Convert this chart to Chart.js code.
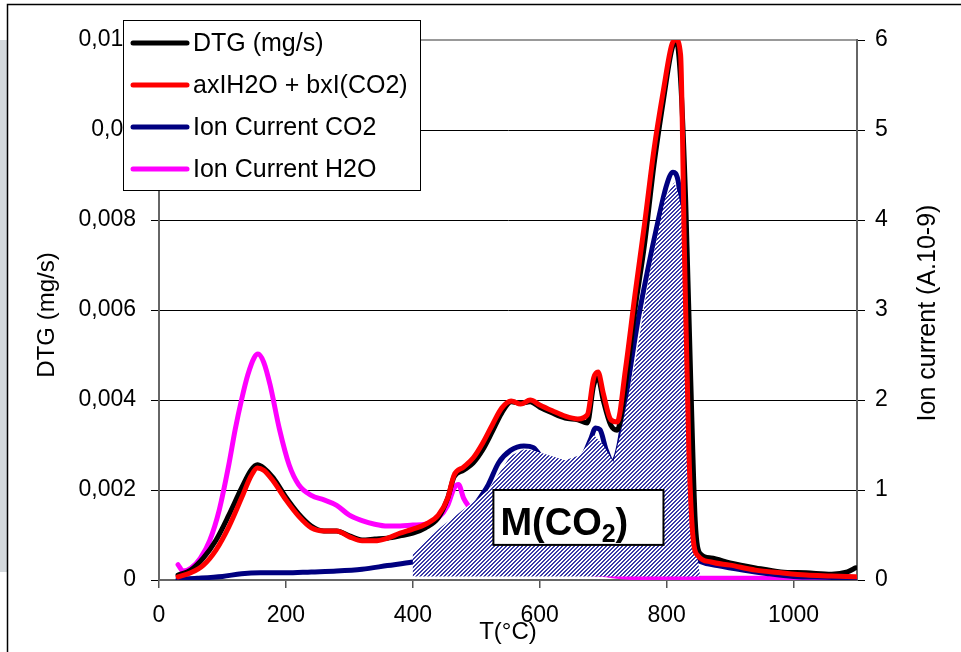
<!DOCTYPE html>
<html><head><meta charset="utf-8">
<script src="https://cdn.jsdelivr.net/npm/chart.js@4/dist/chart.umd.min.js"></script>
<style>html,body{margin:0;padding:0;background:#fff}#wrap{width:961px;height:652px;position:relative}</style>
</head><body><div id="wrap"><canvas id="c" width="961" height="652"></canvas></div>
<script>
// ---- DATA ----
const dtgT = [30,50,70,90,110,130,145,155,165,180,200,220,240,260,280,300,320,340,360,380,400,420,440,455,465,480,495,510,525,540,555,570,585,600,620,640,660,675,685,692,700,712,722,735,750,765,780,795,808,815,822,830,838,845,852,870,900,940,980,1020,1060,1085,1098];
const dtgV = [0.00011,0.00022,0.00049,0.00089,0.00144,0.00204,0.00244,0.00256,0.00249,0.00227,0.00184,0.00147,0.0012,0.00109,0.00109,0.00098,0.00089,0.00091,0.00093,0.00098,0.00104,0.00116,0.00138,0.00182,0.00229,0.00244,0.0026,0.00289,0.00329,0.00371,0.00396,0.00393,0.00396,0.00384,0.00371,0.0036,0.00356,0.00349,0.00433,0.00449,0.004,0.00344,0.00333,0.00433,0.006,0.00744,0.00922,0.01067,0.01178,0.0120,0.01111,0.00844,0.00444,0.00133,0.0006,0.00049,0.00038,0.00027,0.00018,0.00016,0.00013,0.00018,0.00027];

const fitT = [30,50,70,90,110,130,145,155,165,180,200,220,240,260,280,300,320,340,360,380,400,420,440,455,465,480,495,510,525,540,555,570,585,600,620,640,660,675,685,692,700,712,722,735,750,765,780,795,808,815,822,828,835,842,850,870,900,940,980,1020,1060,1098];
const fitV = [0.00007,0.00016,0.00033,0.00067,0.00118,0.00182,0.00231,0.00249,0.00244,0.0022,0.00178,0.00142,0.00116,0.00109,0.00109,0.00096,0.00087,0.00087,0.00093,0.00104,0.00113,0.00124,0.00144,0.00182,0.00233,0.00251,0.00271,0.00304,0.00344,0.00382,0.00398,0.00391,0.004,0.00389,0.00376,0.00364,0.00358,0.00367,0.00449,0.00462,0.00416,0.00356,0.00351,0.00467,0.00633,0.00789,0.00956,0.01089,0.01189,0.0120,0.01167,0.00733,0.00289,0.00089,0.00053,0.0004,0.00033,0.00022,0.00016,0.00011,0.00009,0.00007];

const co2T = [30,60,100,130,160,200,240,280,320,360,400,430,460,490,519,535,554,575,590,610,640,665,680,688,695,705,715,725,740,755,770,785,800,810,818,825,835,845,855,880,920,960,1000,1050,1098];
const co2V = [0.01,0.02,0.04,0.07,0.08,0.08,0.09,0.1,0.12,0.16,0.2,0.24,0.39,0.75,1.06,1.3,1.44,1.49,1.47,1.3,1.25,1.33,1.56,1.69,1.67,1.44,1.31,1.5,2.22,2.89,3.44,3.94,4.39,4.53,4.44,3.78,2.0,0.33,0.2,0.16,0.11,0.07,0.04,0.03,0.02];

const h2oT = [30,38,50,65,80,95,110,120,130,140,150,156,165,175,190,205,220,240,260,280,300,320,340,360,380,400,420,440,455,465,472,480,490,510,550,600,650,700,740,800,900,1000,1098];
const h2oV = [0.17,0.1,0.13,0.24,0.44,0.78,1.28,1.67,2.0,2.28,2.47,2.51,2.42,2.17,1.67,1.28,1.06,0.94,0.89,0.83,0.72,0.66,0.62,0.6,0.6,0.61,0.62,0.69,0.83,1.02,1.06,0.91,0.8,0.61,0.39,0.2,0.1,0.06,0.03,0.02,0.02,0.02,0.02];

// hatched M(CO2) area (ion current units)
const areaT = [399,400,443,519,554,574,590,640,664,685,700,716,727,751,774,798,812,818,830,841,849,853];
const areaV = [0.04,0.30,0.58,1.0,1.38,1.45,1.44,1.33,1.39,1.61,1.5,1.31,1.61,2.44,3.44,4.25,4.42,4.3,3.9,2.0,0.22,0.04];

const xTicks = [0,200,400,600,800,1000];
const legendLabels = ['DTG (mg/s)','axIH2O + bxI(CO2)','Ion Current CO2','Ion Current H2O'];

// ---- helpers ----
const pts = (t,v)=>t.map((x,i)=>({x:x,y:v[i]}));
const FONT = "'Liberation Sans', Arial, sans-serif";

const pc = document.createElement('canvas'); pc.width=4; pc.height=4;
const pctx = pc.getContext('2d');
pctx.fillStyle='#ffffff'; pctx.fillRect(0,0,4,4);
pctx.fillStyle='#3a3aa8';
for(let i=0;i<4;i++){ pctx.fillRect((3-i+4)%4,i,1,1); pctx.fillRect((4-i+4)%4,i,1,1); }
const hatch = pctx.createPattern(pc,'repeat');

const frame = {
  id:'frame',
  beforeDraw(chart){
    const c=chart.ctx; c.save();
    c.fillStyle='#fff'; c.fillRect(0,0,chart.width,chart.height);
    c.fillStyle='#d3d8dc'; c.fillRect(0,40,7,532);
    c.strokeStyle='#000'; c.lineWidth=1.5;
    c.beginPath(); c.moveTo(7.5,652); c.lineTo(7.5,4.5); c.lineTo(961,4.5); c.stroke();
    c.restore();
  },
  afterDraw(chart){
    const c=chart.ctx, a=chart.chartArea, sx=chart.scales.x, sy2=chart.scales.y2;
    c.save();
    c.fillStyle='#000';
    c.textAlign='center'; c.textBaseline='middle';
    c.font='24px '+FONT;
    c.save(); c.translate(47,315); c.rotate(-Math.PI/2); c.fillText('DTG (mg/s)',0,0); c.restore();
    c.font='25px '+FONT;
    c.save(); c.translate(928,313); c.rotate(-Math.PI/2); c.fillText('Ion current (A.10-9)',0,0); c.restore();
    c.font='24px '+FONT;
    c.fillText('T(°C)',(a.left+a.right)/2,632);
    // M(CO2) box
    const x0=sx.getPixelForValue(527), x1=sx.getPixelForValue(795);
    const y0=sy2.getPixelForValue(1.0), y1=sy2.getPixelForValue(0.39);
    c.fillStyle='#fff'; c.fillRect(x0,y0,x1-x0,y1-y0);
    c.strokeStyle='#000'; c.lineWidth=2; c.strokeRect(x0,y0,x1-x0,y1-y0);
    c.fillStyle='#000'; c.textAlign='left'; c.textBaseline='alphabetic';
    c.font='bold 38px '+FONT;
    let tx=x0+7, ty=y0+45;
    c.fillText('M(CO',tx,ty); tx+=c.measureText('M(CO').width;
    c.font='bold 25px '+FONT; c.fillText('2',tx,ty+7); tx+=c.measureText('2').width;
    c.font='bold 38px '+FONT; c.fillText(')',tx,ty);
    // legend
    const lx=123, ly=20, lw=297, lh=170;
    c.fillStyle='#fff'; c.fillRect(lx,ly,lw,lh);
    c.strokeStyle='#000'; c.lineWidth=1; c.strokeRect(lx+0.5,ly+0.5,lw,lh);
    const cols=['#000000','#ff0000','#000080','#ff00ff'];
    c.font='25px '+FONT; c.textBaseline='middle';
    legendLabels.forEach((lab,i)=>{
      const yy=43+i*42;
      c.strokeStyle=cols[i]; c.lineWidth=5; c.lineCap='round';
      c.beginPath(); c.moveTo(133,yy); c.lineTo(187,yy); c.stroke();
      c.fillStyle='#000'; c.fillText(lab,193,yy+1);
    });
    c.restore();
  }
};

const lineDs = (label,data,color,axis,order)=>({label,data,borderColor:color,backgroundColor:color,borderWidth:5,pointRadius:0,fill:false,yAxisID:axis,order,cubicInterpolationMode:'monotone',borderJoinStyle:'round',borderCapStyle:'round'});

new Chart(document.getElementById('c'),{
  type:'line',
  data:{datasets:[
    lineDs(legendLabels[0],pts(dtgT,dtgV),'#000000','y',1),
    lineDs(legendLabels[1],pts(fitT,fitV),'#ff0000','y',0),
    lineDs(legendLabels[2],pts(co2T,co2V),'#000080','y2',3),
    lineDs(legendLabels[3],pts(h2oT,h2oV),'#ff00ff','y2',4),
    {label:'M(CO2)',data:pts(areaT,areaV),yAxisID:'y2',order:2,borderWidth:0,pointRadius:0,fill:{value:0.04},backgroundColor:hatch,tension:0}
  ]},
  options:{
    responsive:false, animation:false, devicePixelRatio:1,
    layout:{padding:{top:40,left:0,right:0,bottom:0}},
    plugins:{legend:{display:false},tooltip:{enabled:false}},
    scales:{
      x:{type:'linear',min:0,max:1100,position:'bottom',
        afterBuildTicks:s=>{s.ticks=xTicks.map(v=>({value:v}));},
        afterFit:s=>{s.height=72;},
        ticks:{font:{family:FONT,size:23},color:'#000',padding:14,maxRotation:0,callback:v=>String(v)},
        grid:{drawOnChartArea:false,tickLength:8,color:'#555',lineWidth:1.5},
        border:{color:'#666',width:2}},
      y:{type:'linear',position:'left',min:0,max:0.012,
        ticks:{stepSize:0.002,font:{family:FONT,size:23},color:'#000',padding:15,
          callback:v=>String(parseFloat(v.toFixed(4))).replace('.',',')},
        afterFit:s=>{s.width=159;},
        grid:{tickLength:8,color:c=>c.tick&&c.tick.value>0.0115?'#999':'#000',lineWidth:c=>c.tick&&c.tick.value>0.0115?2:1},
        border:{color:'#666',width:2}},
      y2:{type:'linear',position:'right',min:0,max:6,
        ticks:{stepSize:1,font:{family:FONT,size:23},color:'#000',padding:10},
        afterFit:s=>{s.width=104;},
        grid:{drawOnChartArea:false,tickLength:8,color:'#000'},
        border:{color:'#666',width:2}}
    }
  },
  plugins:[frame]
});
</script></body></html>
